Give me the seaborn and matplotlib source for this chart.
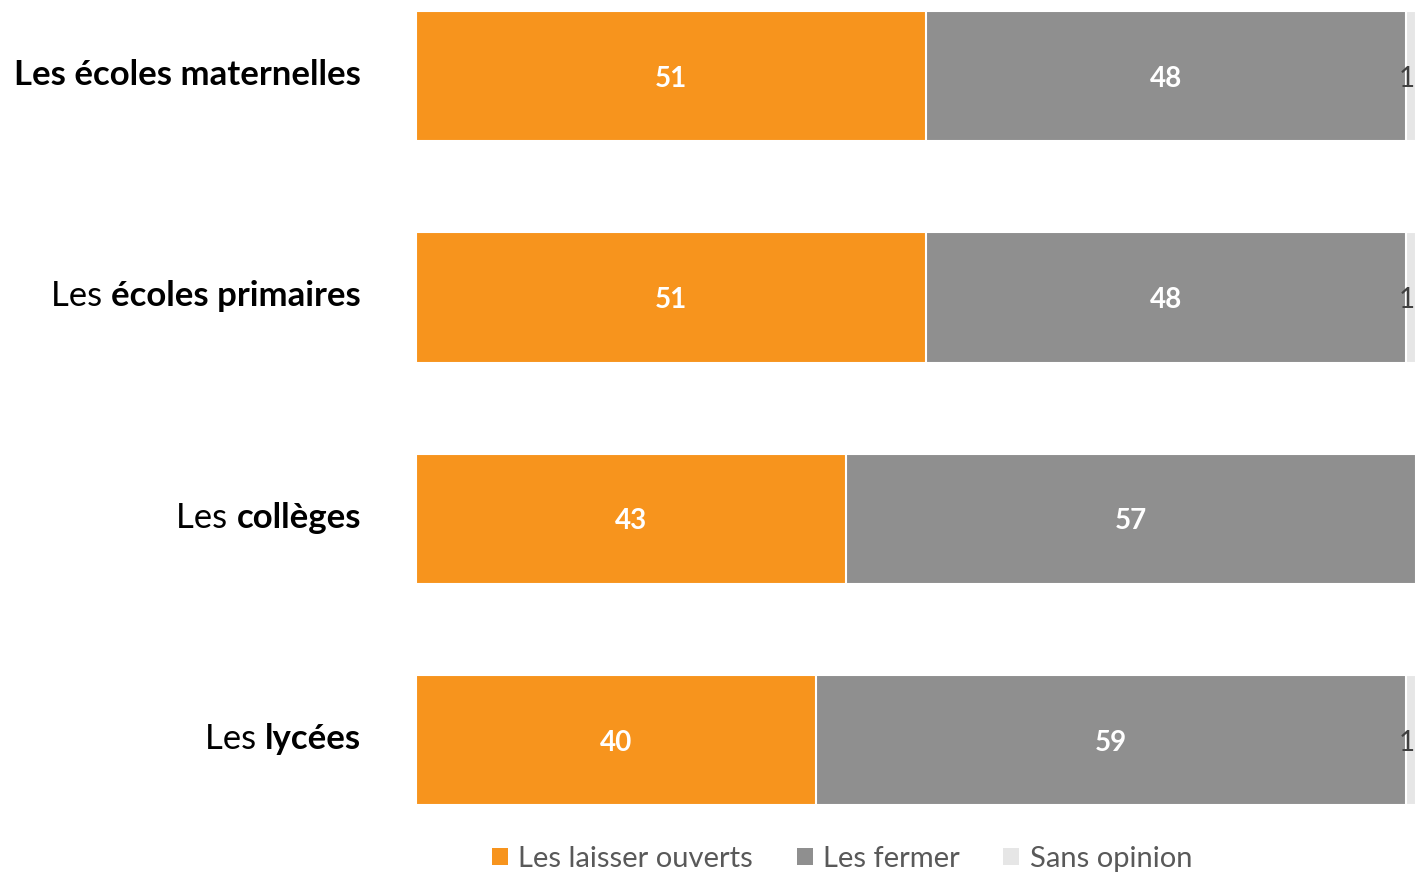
import numpy as np
import pandas as pd
import seaborn as sns
import matplotlib.pyplot as plt
from matplotlib.patches import Patch

# donnees du sondage (%)
prefixes = ["", "Les ", "Les ", "Les "]
noms = ["Les écoles maternelles", "écoles primaires", "collèges", "lycées"]
categories = ["maternelles", "primaires", "colleges", "lycees"]
ouverts = [51, 51, 43, 40]
fermer = [48, 48, 57, 59]
sans_opinion = [1, 1, 0, 1]
series = ["Les laisser ouverts", "Les fermer", "Sans opinion"]
couleurs = ["#F7941D", "#8F8F8F", "#E6E6E6"]

sns.set_theme(style="white")
plt.rcParams["font.family"] = ["Lato", "DejaVu Sans"]

df = pd.DataFrame({"cat": categories, "o": ouverts, "f": fermer, "s": sans_opinion})
df["c1"] = df["o"]
df["c2"] = df["o"] + df["f"]
df["c3"] = df["c2"] + df["s"]

fig = plt.figure(figsize=(14.16, 8.73), dpi=100)
ax = fig.add_axes([416 / 1416, 58 / 873, 1000 / 1416, 815 / 873])

largeur = 130 / 221
for col, couleur in zip(["c3", "c2", "c1"], couleurs[::-1]):
    sns.barplot(data=df, y="cat", x=col, orient="h", color=couleur, width=largeur,
                edgecolor="white", linewidth=1.5, saturation=1, ax=ax)

ax.set_xlim(0, 100)
ax.set_ylim(3.339, -0.345)
ax.set_xlabel("")
ax.set_ylabel("")
ax.set_xticks([])
ax.set_yticks([])
for sp in ax.spines.values():
    sp.set_visible(False)

# etiquettes de valeurs
for i, row in df.iterrows():
    y = i + 0.012
    ax.text(row["o"] / 2, y, str(row["o"]), ha="center", va="center",
            color="white", fontsize=20, fontweight="bold")
    ax.text(row["o"] + row["f"] / 2, y, str(row["f"]), ha="center", va="center",
            color="white", fontsize=20, fontweight="bold")
    if row["s"] > 0:
        # le segment touche le bord : on cale le chiffre a droite pour qu'il reste lisible
        ax.text(row["c3"] - 0.1, y, str(row["s"]), ha="right", va="center",
                color="#404040", fontsize=20, clip_on=False)

# etiquettes des categories (partie normale + partie en gras)
for i, (pre, nom) in enumerate(zip(prefixes, noms)):
    t = ax.text(-5.5, i - 0.005, nom, ha="right", va="center", fontsize=25,
                fontweight="bold", color="black")
    if pre:
        ax.annotate(pre, xy=(0, 0.5), xycoords=t, ha="right", va="center",
                    fontsize=25, color="black")

handles = [Patch(facecolor=c, edgecolor="none") for c in couleurs]
fig.legend(handles, series, loc="center", bbox_to_anchor=(842 / 1416, 1 - 859 / 873),
           ncol=3, frameon=False, fontsize=21, labelcolor="#595959",
           handlelength=0.55, handleheight=0.55, handletextpad=0.35, columnspacing=1.5)

fig.savefig("out.png", dpi=100)
